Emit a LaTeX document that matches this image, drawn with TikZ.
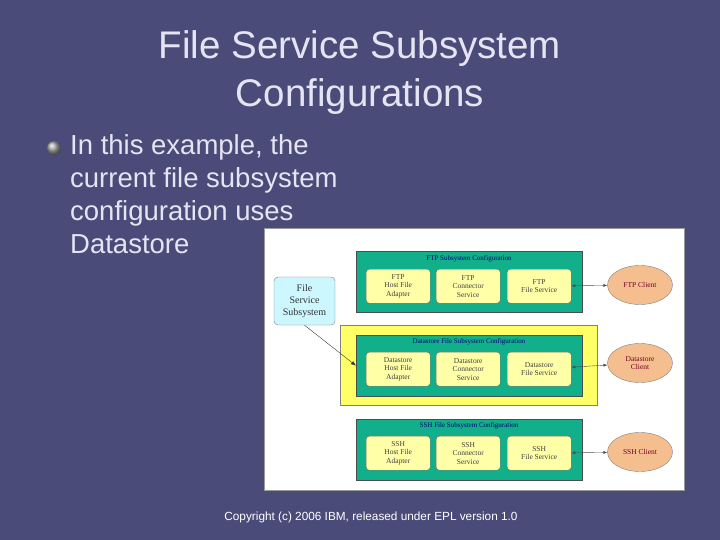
\documentclass[tikz,border=0pt]{standalone}
\usepackage{fontspec}
\setmainfont{Liberation Sans}
\newfontfamily\serifd{Liberation Serif}
\usetikzlibrary{shapes.geometric,arrows.meta}
\definecolor{bg}{HTML}{4B4B7A}
\definecolor{ttl}{HTML}{E4E4F2}
\definecolor{grn}{HTML}{12B08A}
\definecolor{ylw}{HTML}{FFFF66}
\definecolor{ibox}{HTML}{FFFFA8}
\definecolor{cli}{HTML}{F5BE8E}
\definecolor{fss}{HTML}{CCF7FF}
\tikzset{
 cfg/.style={draw=black!70,fill=grn,minimum width=226pt,minimum height=61pt,anchor=north west,inner sep=0pt},
 ib/.style={draw=black!60,fill=ibox,rounded corners=3pt,minimum width=64pt,minimum height=34pt,anchor=north west,align=center,font=\serifd\fontsize{7.5}{8.5}\selectfont,text=black!75,inner sep=0pt},
 ttl2/.style={font=\serifd\fontsize{7}{8}\selectfont,text=blue!45!black},
 cl/.style={ellipse,draw=black!50,fill=cli,minimum width=65pt,minimum height=39pt,font=\serifd\fontsize{7.5}{8.5}\selectfont,text=purple!60!black,align=center,inner sep=0pt},
 conn/.style={{Latex[length=4pt]}-{Latex[length=4pt]},black!70,thin},
 wt/.style={text=ttl,align=left}
}
\begin{document}
\begin{tikzpicture}[x=1pt,y=-1pt]
\fill[bg] (0,0) rectangle (720,540);
\useasboundingbox (0,0) rectangle (720,540);
\node[text=ttl,font=\fontsize{38.5}{48}\selectfont,align=center] (title) at (360,73) {File Service Subsystem\\Configurations};
\shade[ball color=gray!70] (54,148) circle (7pt);
\node[wt,anchor=north west,font=\fontsize{27.5}{33}\selectfont,inner sep=0pt] (bul) at (70,134) {In this example, the\\current file subsystem\\configuration uses\\Datastore};
\node[fill=white,draw=black!40,minimum width=420pt,minimum height=262pt,anchor=north west,inner sep=0pt] (panel) at (264,228) {};
\node[cfg] (ftp) at (356,251) {};
\node[ttl2] (ftpt) at (469,259) {FTP Subsystem Configuration};
\node[fill=ylw,draw=black!50,minimum width=257pt,minimum height=80pt,anchor=north west,inner sep=0pt] (yl) at (340,325) {};
\node[cfg] (ds) at (356,335) {};
\node[ttl2] (dst) at (469,342) {Datastore File Subsystem Configuration};
\node[cfg] (ssh) at (356,419) {};
\node[ttl2] (ssht) at (469,426) {SSH File Subsystem Configuration};
\node[ib] (f1) at (366,269) {FTP\\Host File\\Adapter};
\node[ib] (f2) at (436,269) {FTP\\Connector\\Service};
\node[ib] (f3) at (507,269) {FTP\\File Service};
\node[ib] (d1) at (366,352) {Datastore\\Host File\\Adapter};
\node[ib] (d2) at (436,352) {Datastore\\Connector\\Service};
\node[ib] (d3) at (507,352) {Datastore\\File Service};
\node[ib] (s1) at (366,436) {SSH\\Host File\\Adapter};
\node[ib] (s2) at (436,436) {SSH\\Connector\\Service};
\node[ib] (s3) at (507,436) {SSH\\File Service};
\node[cl] (fc) at (640,285) {FTP Client};
\node[cl] (dc) at (640,363) {Datastore\\Client};
\node[cl] (sc) at (640,452) {SSH Client};
\draw[conn] (f3) -- (fc);
\draw[conn] (d3) -- (dc);
\draw[conn] (s3) -- (sc);
\node[draw=black!50,fill=fss,rounded corners=4pt,minimum width=61pt,minimum height=48pt,align=center,font=\serifd\fontsize{10}{12}\selectfont,text=black!80,inner sep=0pt] (fs) at (304.5,301) {File\\Service\\Subsystem};
\draw[-{Latex[length=5pt]},black!80,thin] (fs.south) -- (ds.west);
\node[text=white,font=\fontsize{11.8}{14}\selectfont] (copy) at (371,517) {Copyright (c) 2006 IBM, released under EPL version 1.0};
\end{tikzpicture}
\end{document}
